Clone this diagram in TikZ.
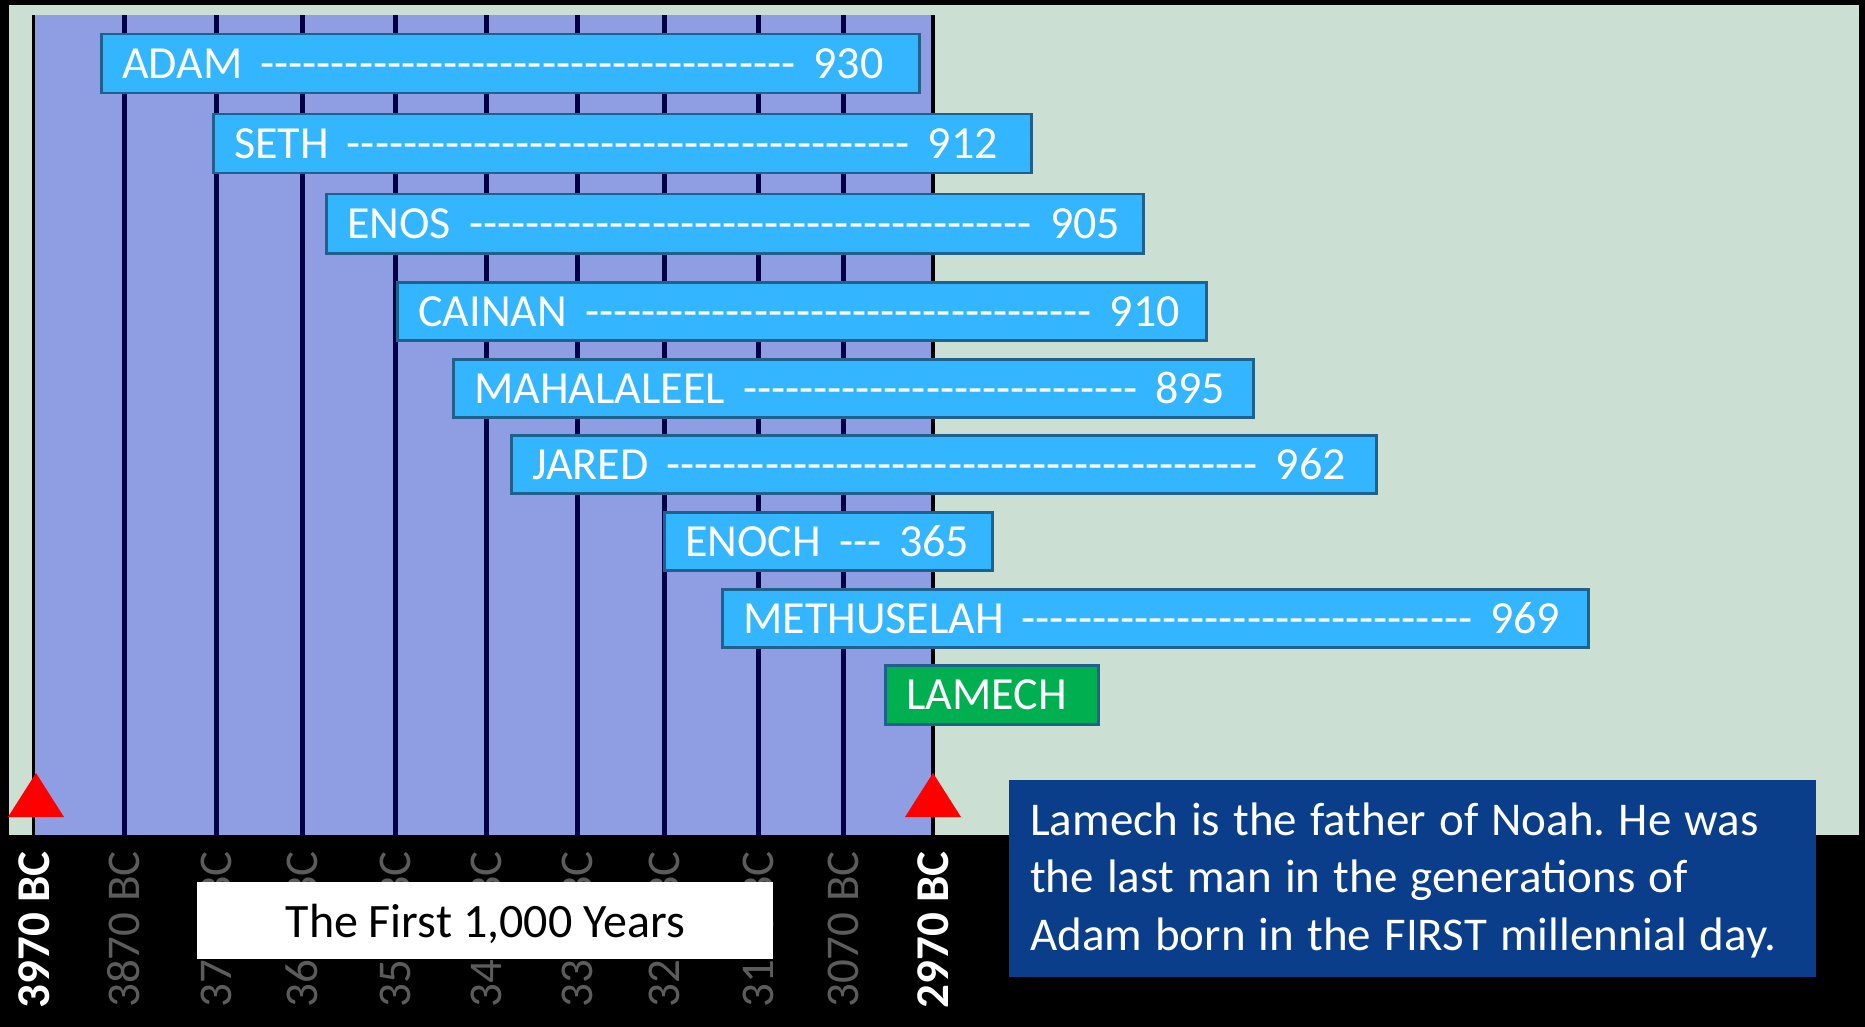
\documentclass[tikz,border=0pt]{standalone}
\usepackage{fontspec}
\newfontfamily\cf{Carlito}
\protected\def\barsp{\spaceskip=\dimexpr0.24em+7pt\relax}
\definecolor{bggreen}{RGB}{204,223,211}
\definecolor{lav}{RGB}{143,157,227}
\definecolor{navy}{RGB}{0,0,70}
\definecolor{barfill}{RGB}{51,181,255}
\definecolor{barline}{RGB}{31,96,140}
\definecolor{lamgreen}{RGB}{0,176,80}
\definecolor{notebg}{RGB}{10,61,138}
\definecolor{axisgray}{RGB}{92,92,92}
\begin{document}
\begin{tikzpicture}[x=1pt,y=-1pt,
  bar/.style={draw=barline, line width=2.5pt, fill=barfill, text=white, anchor=north west,
    inner xsep=21pt, inner ysep=0pt, text depth=0pt,
    font=\cf\fontsize{46}{50}\selectfont\barsp},
  lambar/.style={bar, fill=lamgreen},
  yl/.style={rotate=90, anchor=east, inner sep=0pt, text=axisgray,
    font=\cf\fontsize{47}{50}\selectfont},
  ylb/.style={yl, text=white, font=\cf\bfseries\fontsize{47}{50}\selectfont},
  vline/.style={draw=navy, line width=5pt},
  edgeline/.style={draw=black, line width=4pt},
  redtri/.style={fill=red}
]
\useasboundingbox (0,0) rectangle (1865,1027);
% backgrounds
\fill[black] (0,0) rectangle (1865,1027);
\fill[bggreen] (9,5) rectangle (1859,835);
\fill[lav] (33,15) rectangle (933,835);
% century lines
\foreach \x in {124,216,302,395,486,577,664,758,843}
  \draw[vline] (\x,15) -- (\x,835);
\draw[edgeline, line width=3pt] (33,15) -- (33,835);
\draw[edgeline] (933,15) -- (933,835);
% axis labels
\node[ylb] (l3970) at (34,851) {3970 BC};
\node[yl] (l3870) at (124,851) {3870 BC};
\node[yl] (l3770) at (216,851) {3770 BC};
\node[yl] (l3670) at (302,851) {3670 BC};
\node[yl] (l3570) at (395,851) {3570 BC};
\node[yl] (l3470) at (486,851) {3470 BC};
\node[yl] (l3370) at (577,851) {3370 BC};
\node[yl] (l3270) at (664,851) {3270 BC};
\node[yl] (l3170) at (758,851) {3170 BC};
\node[yl] (l3070) at (843,851) {3070 BC};
\node[ylb] (l2970) at (933,851) {2970 BC};
% red markers
\fill[redtri] (8,817) -- (36,773) -- (64,817) -- cycle;
\fill[redtri] (905,817) -- (933,773) -- (961,817) -- cycle;
% bars
\node[bar, minimum height=59pt] (adam) at (100,33)
  {\makebox[776pt][l]{ADAM -------------------------------------- 930}};
\node[bar, minimum height=59pt] (seth) at (212,113)
  {\makebox[776pt][l]{SETH ---------------------------------------- 912}};
\node[bar, minimum height=59pt] (enos) at (325,193)
  {\makebox[775pt][l]{ENOS ---------------------------------------- 905}};
\node[bar, minimum height=58pt] (cainan) at (396,281)
  {\makebox[767pt][l]{CAINAN ------------------------------------ 910}};
\node[bar, minimum height=58pt] (mahalaleel) at (452,358)
  {\makebox[758pt][l]{MAHALALEEL ---------------------------- 895}};
\node[bar, minimum height=58pt] (jared) at (510,434)
  {\makebox[823pt][l]{JARED ------------------------------------------ 962}};
\node[bar, minimum height=58pt] (enoch) at (663,511)
  {\makebox[286pt][l]{ENOCH --- 365}};
\node[bar, minimum height=58pt] (methuselah) at (721,588)
  {\makebox[824pt][l]{METHUSELAH -------------------------------- 969}};
\node[lambar, minimum height=59pt] (lamech) at (884,664)
  {\makebox[171pt][l]{LAMECH}};
% title box
\node[fill=white, anchor=north west, minimum width=576pt, minimum height=77pt,
  inner sep=0pt, text depth=0pt, font=\cf\fontsize{48}{50}\selectfont] (title) at (197,882)
  {The First 1,000 Years};
% note box
\fill[notebg] (1009,780) rectangle (1816,784);
\node[fill=notebg, anchor=north west, minimum width=807pt, minimum height=194pt,
  text width=765pt, inner xsep=21pt, inner ysep=0pt, align=left, text=white,
  font=\cf\fontsize{47}{57.5}\selectfont\frenchspacing,
  execute at begin node={\spaceskip=0.28em\relax}] (note) at (1009,783)
  {Lamech is the father of Noah. He was\\the last man in the generations of\\Adam born in the FIRST millennial day.};
\end{tikzpicture}
\end{document}
